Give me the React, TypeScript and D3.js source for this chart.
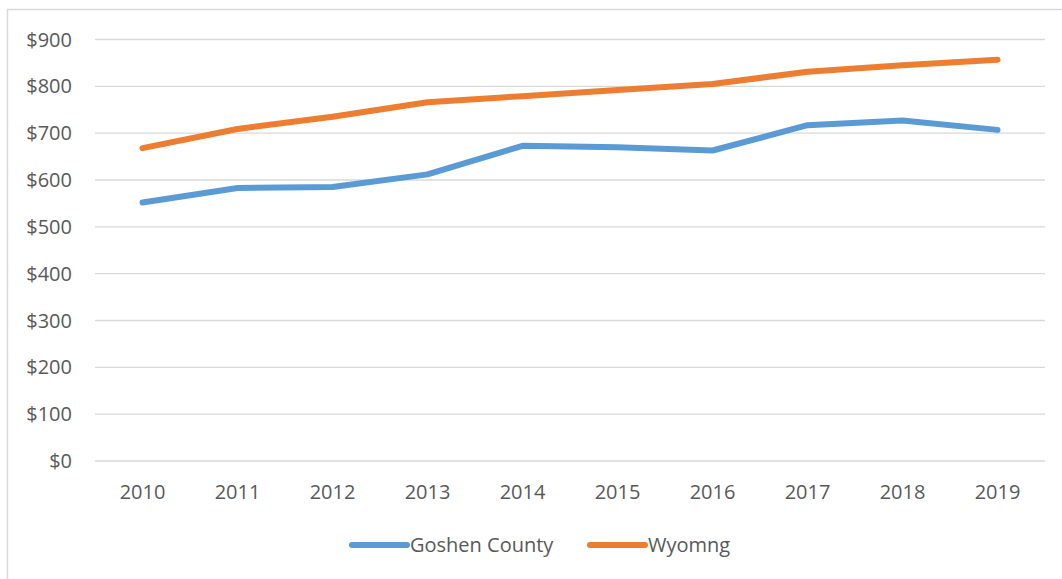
import * as d3 from 'd3';
import { useEffect, useRef } from 'react';

const years = ['2010', '2011', '2012', '2013', '2014', '2015', '2016', '2017', '2018', '2019'];
const goshen = [552, 583, 585, 612, 673, 670, 663, 717, 727, 707];
const wyoming = [668, 709, 735, 766, 779, 792, 805, 831, 845, 857];
const yTicks = [0, 100, 200, 300, 400, 500, 600, 700, 800, 900];

const seriesList = [
  { name: 'Goshen County', values: goshen, color: '#5B9BD5' },
  { name: 'Wyomng', values: wyoming, color: '#ED7D31' },
];

const width = 1062;
const height = 579;
const margin = { top: 39.5, bottom: 118, left: 95, right: 17 };
const font = '"Open Sans", "Noto Sans", sans-serif';
const textColor = '#595959';

const App = () => {
  const chartRef = useRef<SVGSVGElement>(null);

  useEffect(() => {
    const svg = d3.select(chartRef.current);
    svg.selectAll('*').remove();

    const x = d3
      .scaleBand()
      .domain(years)
      .range([margin.left, width - margin.right]);

    const y = d3
      .scaleLinear()
      .domain([0, 900])
      .range([height - margin.bottom, margin.top]);

    // chart area border
    svg
      .append('rect')
      .attr('x', 7.5)
      .attr('y', 9.5)
      .attr('width', width + 20)
      .attr('height', height + 20)
      .style('fill', '#fff')
      .style('stroke', '#D9D9D9')
      .style('stroke-width', 1.5);

    // gridlines
    svg
      .selectAll('.grid')
      .data(yTicks)
      .enter()
      .append('line')
      .attr('x1', margin.left)
      .attr('x2', width - margin.right)
      .attr('y1', (d) => y(d))
      .attr('y2', (d) => y(d))
      .style('stroke', '#D9D9D9')
      .style('stroke-width', 1.3);

    svg
      .selectAll('.ylabel')
      .data(yTicks)
      .enter()
      .append('text')
      .attr('x', 72)
      .attr('y', (d) => y(d))
      .attr('dy', '0.35em')
      .attr('text-anchor', 'end')
      .style('font-family', font)
      .style('font-size', '20px')
      .style('fill', textColor)
      .text((d) => `$${d}`);

    svg
      .selectAll('.xlabel')
      .data(years)
      .enter()
      .append('text')
      .attr('x', (d) => (x(d) ?? 0) + x.bandwidth() / 2)
      .attr('y', 492)
      .attr('dy', '0.35em')
      .attr('text-anchor', 'middle')
      .style('font-family', font)
      .style('font-size', '20px')
      .style('fill', textColor)
      .text((d) => d);

    const line = d3
      .line<number>()
      .x((_, i) => (x(years[i]) ?? 0) + x.bandwidth() / 2)
      .y((d) => y(d));

    seriesList.forEach((s) => {
      svg
        .append('path')
        .attr('d', line(s.values))
        .style('fill', 'none')
        .style('stroke', s.color)
        .style('stroke-width', 6)
        .style('stroke-linecap', 'round')
        .style('stroke-linejoin', 'round');
    });

    // legend
    const legendX = [352, 590];
    seriesList.forEach((s, i) => {
      const g = svg.append('g').attr('transform', `translate(${legendX[i]}, 545)`);
      g.append('line')
        .attr('x1', 0)
        .attr('x2', 55)
        .style('stroke', s.color)
        .style('stroke-width', 6)
        .style('stroke-linecap', 'round');
      g.append('text')
        .attr('x', 58)
        .attr('dy', '0.35em')
        .style('font-family', font)
        .style('font-size', '20px')
        .style('fill', textColor)
        .text(s.name);
    });
  }, []);

  return (
    <svg
      ref={chartRef}
      width={width}
      height={height}
      style={{ position: 'absolute', left: 0, top: 0, background: '#fff' }}
    />
  );
};

export default App;
